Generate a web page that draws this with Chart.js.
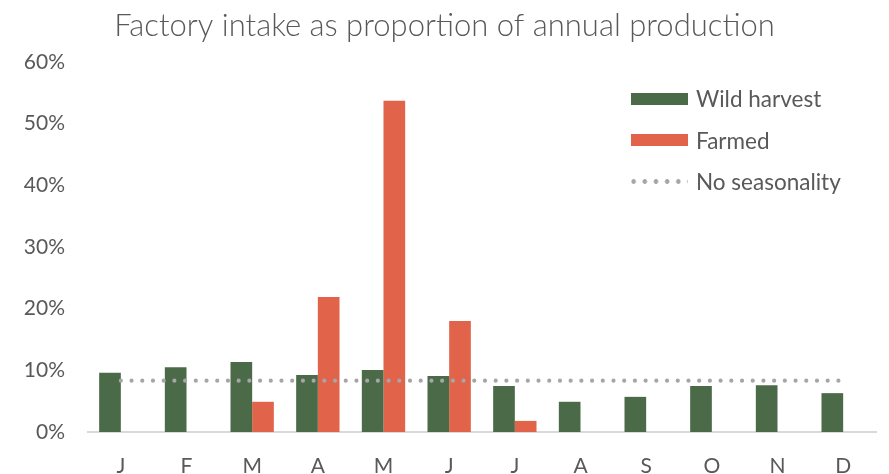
<!DOCTYPE html>
<html>
<head>
<meta charset="utf-8">
<script src="https://cdn.jsdelivr.net/npm/chart.js@4/dist/chart.umd.min.js"></script>
<style>
  html, body { margin: 0; padding: 0; background: #fff; }
  #wrap { position: relative; width: 889px; height: 474px; }
  #legend { position: absolute; left: 631px; top: 78px; font-family: Lato, sans-serif; font-size: 22.5px; color: #595959; }
  .item { display: flex; align-items: center; height: 41.5px; }
  .sw { width: 57px; height: 12px; margin-right: 8px; }
  .dots { width: 57px; height: 5px; margin-right: 8px;
    background-image: radial-gradient(circle, #a6a6a6 2.1px, transparent 2.6px);
    background-size: 11.2px 5px; background-position: -3px 0; }
</style>
</head>
<body>
<div id="wrap">
  <canvas id="c" width="889" height="474"></canvas>
  <div id="legend">
    <div class="item"><div class="sw" style="background:#4b6a47"></div>Wild harvest</div>
    <div class="item"><div class="sw" style="background:#e0634a"></div>Farmed</div>
    <div class="item"><div class="dots"></div>No seasonality</div>
  </div>
</div>
<script>
const months = ["J","F","M","A","M","J","J","A","S","O","N","D"];
const wildHarvest = [9.6, 10.5, 11.35, 9.25, 10.05, 9.1, 7.45, 4.9, 5.7, 7.45, 7.6, 6.3];
const farmed = [null, null, 4.9, 21.9, 53.7, 18.0, 1.8, null, null, null, null, null];
const noSeasonality = [8.33, 8.33, 8.33, 8.33, 8.33, 8.33, 8.33, 8.33, 8.33, 8.33, 8.33, 8.33];
const yTicks = [0, 10, 20, 30, 40, 50, 60];

const FONT = "Lato, 'Open Sans', sans-serif";

new Chart(document.getElementById('c'), {
  data: {
    labels: months,
    datasets: [
      { type: 'line', label: 'No seasonality', data: noSeasonality,
        borderColor: '#a6a6a6', borderWidth: 4.2, borderCapStyle: 'round',
        borderDash: [0.01, 10.7], pointRadius: 0, fill: false, order: 0 },
      { type: 'bar', label: 'Wild harvest', data: wildHarvest,
        backgroundColor: '#4b6a47', categoryPercentage: 0.66, barPercentage: 1.0, order: 1 },
      { type: 'bar', label: 'Farmed', data: farmed,
        backgroundColor: '#e0634a', categoryPercentage: 0.66, barPercentage: 1.0, order: 1 }
    ]
  },
  options: {
    responsive: false,
    animation: false,
    layout: { padding: 0 },
    plugins: {
      legend: { display: false },
      tooltip: { enabled: false },
      title: { display: true, text: 'Factory intake as proportion of annual production',
        color: '#595959', font: { family: FONT, size: 31, weight: 300 },
        padding: { top: 7, bottom: 17.8 } }
    },
    scales: {
      x: {
        offset: true,
        grid: { display: false, drawTicks: false },
        border: { display: true, color: '#d9d9d9', width: 2 },
        ticks: { color: '#595959', font: { family: FONT, size: 21 }, padding: 22 },
        afterFit: s => { s.height = 42; }
      },
      y: {
        min: 0, max: 60,
        afterBuildTicks: s => { s.ticks = yTicks.map(v => ({ value: v })); },
        grid: { display: false, drawTicks: false },
        border: { display: false },
        ticks: { color: '#595959', font: { family: FONT, size: 21 }, padding: 23,
          callback: v => v + '%' },
        afterFit: s => { s.width = 88; }
      },
      yRight: {
        position: 'right', min: 0, max: 60,
        grid: { display: false, drawTicks: false },
        border: { display: false },
        ticks: { display: false },
        afterFit: s => { s.width = 13; }
      }
    }
  }
});
</script>
</body>
</html>
